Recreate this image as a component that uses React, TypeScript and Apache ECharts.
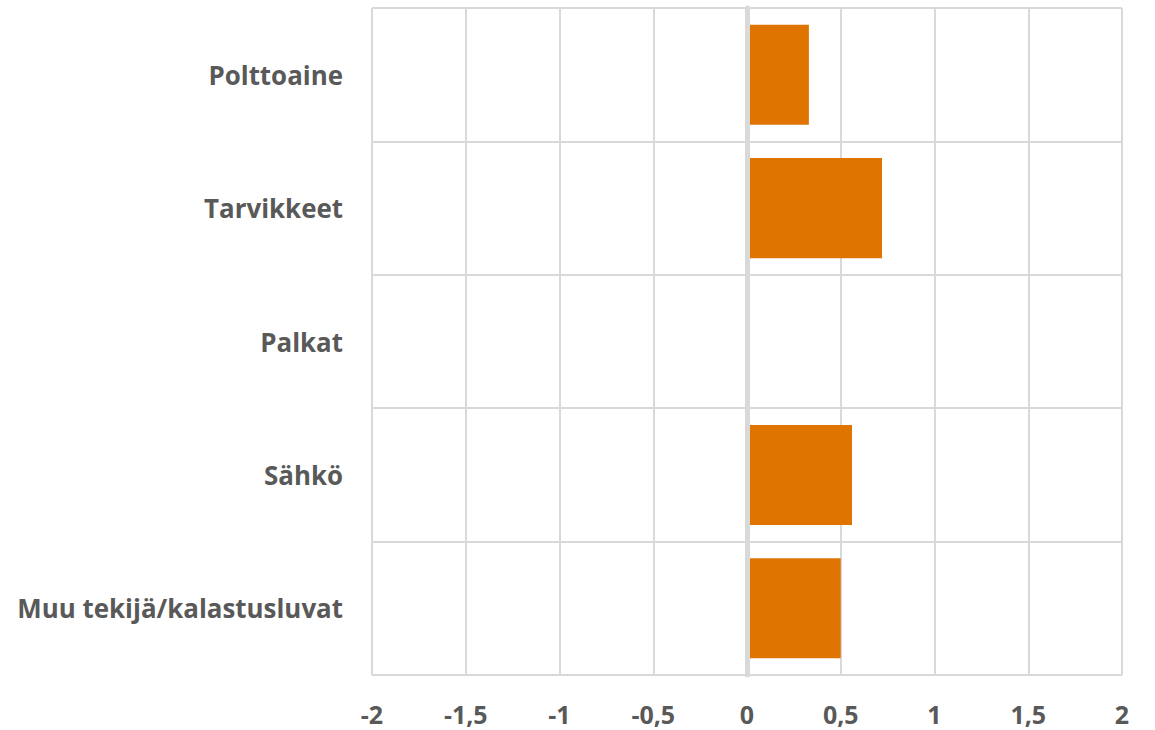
import React, { useEffect, useRef } from "react";
import * as echarts from "echarts";

const categories = ["Polttoaine", "Tarvikkeet", "Palkat", "Sähkö", "Muu tekijä/kalastusluvat"];
const values = [0.33, 0.72, 0, 0.56, 0.5];
const xMin = -2;
const xMax = 2;
const xStep = 0.5;

export default function App() {
  const ref = useRef<HTMLDivElement>(null);
  useEffect(() => {
    if (!ref.current) return;
    const chart = echarts.init(ref.current, undefined, { renderer: "svg" });
    const font = "'Open Sans', 'Noto Sans', sans-serif";
    chart.setOption({
      animation: false,
      backgroundColor: "#ffffff",
      grid: { left: 372, right: 33, top: 8, bottom: 55, containLabel: false },
      xAxis: {
        type: "value",
        min: xMin,
        max: xMax,
        interval: xStep,
        axisLine: { show: false },
        axisTick: { show: false },
        splitLine: { show: true, lineStyle: { color: "#d9d9d9", width: 2 } },
        axisLabel: {
          margin: 26,
          color: "#595959",
          fontFamily: font,
          fontWeight: "bold",
          fontSize: 25,
          lineHeight: 25,
          formatter: (v: number) => String(v).replace(".", ","),
        },
      },
      yAxis: {
        type: "category",
        data: categories,
        inverse: true,
        z: 5,
        axisLine: { show: true, onZero: true, lineStyle: { color: "#d9d9d9", width: 5 } },
        axisTick: { show: false },
        splitLine: { show: true, lineStyle: { color: "#d9d9d9", width: 2 } },
        axisLabel: {
          margin: 29,
          color: "#595959",
          fontFamily: font,
          fontWeight: "bold",
          fontSize: 25.9,
        },
      },
      series: [
        {
          type: "bar",
          data: values,
          barCategoryGap: "25%",
          itemStyle: { color: "#df7500" },
        },
      ],
    });
    return () => chart.dispose();
  }, []);
  return <div ref={ref} style={{ position: "fixed", left: 0, top: 0, width: 1155, height: 730 }} />;
}
